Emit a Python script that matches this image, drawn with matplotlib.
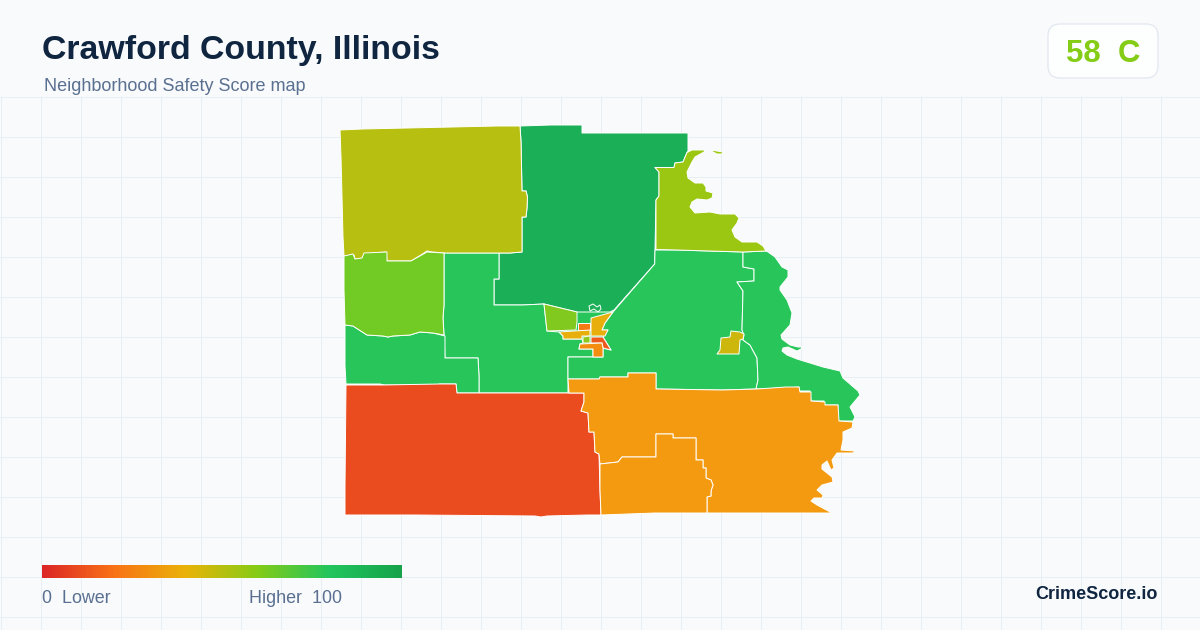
import numpy as np
import matplotlib
matplotlib.use("Agg")
import matplotlib.pyplot as plt
from matplotlib.colors import LinearSegmentedColormap
from matplotlib.patches import FancyBboxPatch, Polygon

TITLE = "Crawford County, Illinois"
SUBTITLE = "Neighborhood Safety Score map"
GRADE = "58  C"
BRAND = "CrimeScore.io"
LEGEND_LOW = "0  Lower"
LEGEND_HIGH = "Higher  100"

legend_stops = [0, 0.2, 0.4, 0.6, 0.8, 1]
legend_colors = ["#dc2626", "#f97316", "#eab308", "#84cc16", "#22c55e", "#16a34a"]

# Map outlines (map units)
northwest = [(340,130),(362,129),(407,128),(452,127),(497,126),(520,126),(521,142),(522,191),(526,191),(527.5,197),(527,208),(526,217),(522,217),(522,252),(510,253),(472,253),(445,253),(432,252),(427,251),(421,255),(411,261),(387,261),(386,252),(374,253),(365,254),(364,258),(357,259),(355,259),(354,255),(344,256),(343,237),(341,157)]
north = [(520,126),(551,125),(582,125),(582,133),(688,133),(688,151),(687,152.5),(683,162),(675,163),(674,167.5),(655,167.5),(659,172),(659,196),(656,200),(655,250),(654.7,264),(614,310),(610,312),(600,312),(590,312),(577,312),(544,304),(522,305),(494,305),(494,279),(499,279),(499,253),(510,253),(522,252),(522,217),(526,217),(527,208),(527.5,197),(526,191),(522,191),(521,142)]
northeast = [(655,167.5),(674,167.5),(675,163),(683,162),(687,152.5),(692,150),(705,150),(704,152),(695,157),(692,162),(687,172),(688,178),(695,183),(703,183),(706,187),(706,191),(713,193),(712,198),(707,200),(697,199),(692,202),(690,207),(695,213),(710,212),(720,214),(735,214),(739,218),(737,223),(732,230),(735,237),(742,242),(750,242),(757,242),(763,246),(766,251),(743,252),(709,251),(677,250),(656,249.5),(656,200),(659,196),(659,172)]
northeast_island = [(711,150),(717,151),(723,152),(722,154),(717,154),(713,152)]
west = [(344,256),(353,254),(355,259),(362,258),(364,253),(387,252),(387,261),(411,261),(427,252),(444,253),(444,305),(443,318),(444,335),(433,333),(420,332),(410,335),(393,336),(388,337),(383,336),(367,335),(353,326),(345,325),(344,290)]
west_middle = [(345,325),(353,326),(367,335),(383,336),(388,337),(393,336),(410,335),(420,332),(433,333),(445,336),(445,358),(478,358),(479,376),(479,393),(457,393),(456,384),(440,384),(435,385),(384,385),(380,384),(346,384),(345,366)]
central = [(444,253),(499,253),(499,279),(494,279),(494,305),(522,305),(544,304),(547,331),(559,332),(563,336),(563,339),(582,339),(583,343),(580,344),(579,349),(593,349),(593,357),(568,357),(568,393),(479,393),(479,376),(478,358),(445,358),(444,335),(443,318),(444,305)]
mid_east = [(655,250),(677,250),(709,251),(743,252),(743,267),(754,269),(754,281),(737,282),(743,291),(742,330),(744,335),(743,340),(750,345),(757,358),(758,380),(756,389),(722,390),(656,389),(656,373),(628,373),(628,377),(600,377),(599,379),(568,379),(568,357),(603,357),(603,348),(611,350),(603,337),(608,330),(602,330),(605,323),(613,312),(654.7,264)]
far_east = [(743,252),(766,251),(768,252),(775,257),(782,267),(788,270),(788,277),(780,287),(780,290),(787,300),(792,313),(790,325),(781,335),(782,339),(790,345),(798,347),(802,347),(801,349),(797,351),(788,347),(783,348),(782,351),(787,355),(797,359),(823,367),(840,371),(843,378),(858,391),(860,395),(850,407),(855,417),(853,421),(838,421),(838,405),(824,405),(824,401),(811,401),(810,391),(799,391),(799,387),(786,388),(756,389),(758,380),(757,358),(750,345),(743,340),(744,335),(742,330),(743,291),(737,282),(754,281),(754,269),(743,267)]
east_town = [(731,331),(740,332),(744,334),(743,339),(740,340),(739,354),(717,354),(720,350),(721,338),(730,337)]
southwest = [(346,385),(384,385),(439,384),(456,384),(457,393),(479,393),(568,393),(570,393),(584,393),(584,402),(581,411),(588,413),(589,432),(594,432),(595,452),(599,454),(600,490),(601,515),(587,515),(547,516),(541,517),(535,516),(415,515),(345,515),(345,487)]
southeast = [(568,379),(599,379),(600,377),(628,377),(628,373),(656,373),(656,389),(722,390),(757,389),(786,387),(799,387),(800,392),(811,392),(811,401),(825,402),(825,405),(838,405),(839,421),(853,422),(852,428),(843,432),(843,440),(841,450),(855,451),(853,453),(837,453),(832,460),(834,468),(831,470),(827,461),(822,465),(822,469),(832,477),(833,482),(822,485),(817,490),(823,495),(822,498),(814,498),(811,501),(817,505),(832,513),(800,513),(707,513),(707,497),(711,496),(711,491),(713,485),(711,480),(706,478),(706,468),(703,468),(703,460),(696,460),(696,438),(673,438),(673,434),(656,434),(656,457),(622,457),(618,462),(600,464),(599,454),(595,452),(594,432),(589,432),(588,413),(581,411),(584,402),(584,393),(569,393)]
south_middle = [(600,464),(618,462),(622,457),(656,457),(656,434),(673,434),(673,438),(696,438),(696,460),(703,460),(703,468),(706,468),(706,478),(711,480),(713,485),(711,491),(711,496),(707,497),(707,513),(655,513),(628,514),(601,515),(600,490)]
city_base = [(544,304),(577,312),(590,312),(610,312),(613,312),(611,350),(603,357),(568,357),(563,339),(547,331)]
city_west = [(544,304),(577,312),(577,322),(576,330),(547,331)]
city_core = [(578,323),(590,323),(590,330),(578,330)]
city_northeast = [(591,318),(613,312),(605,323),(602,330),(608,330),(605,336),(591,336)]
city_bar = [(559,332),(590,330),(590,336),(582,336),(582,339),(563,339),(563,336)]
city_middle = [(583,337),(590,336),(590,343),(583,343)]
city_southeast = [(591,337),(603,337),(611,350),(603,348),(602,343),(591,343)]
city_south = [(580,344),(602,343),(603,348),(603,357),(593,357),(593,349),(579,349)]
city_loop = [(590,311),(589,306),(593,304),(597,307),(600,305),(601,309),(598,312),(594,309)]

regions = [
    (city_base, "#28c65a"), (north, "#1bb058"), (central, "#28c65a"), (mid_east, "#28c65a"),
    (far_east, "#28c65a"), (west_middle, "#28c65a"), (northwest, "#b7c011"), (northeast, "#9bc712"),
    (northeast_island, "#9bc712"), (west, "#72cb24"), (east_town, "#cdb70d"),
    (southwest, "#ea4c1f"), (southeast, "#f39a10"), (south_middle, "#f39a10"),
    (city_west, "#82c91f"), (city_core, "#f47a12"), (city_northeast, "#e8ae0b"),
    (city_bar, "#e8ae0b"), (city_middle, "#8fc71a"), (city_southeast, "#ee5a1e"),
    (city_south, "#f28d10"),
]

BG = "#f8fafc"
fig = plt.figure(figsize=(12, 6.3), dpi=100, facecolor=BG)
ax = fig.add_axes([0, 0, 1, 1])
ax.set_xlim(0, 1200)
ax.set_ylim(630, 0)
ax.axis("off")

GRID = "#e8eff4"
ax.vlines(np.arange(0.5, 1200, 40), 96, 630, color=GRID, lw=0.72, zorder=1)
ax.hlines(np.arange(96.5, 630, 40), 0, 1200, color=GRID, lw=0.72, zorder=1)

for pts, col in regions:
    edge = col if pts is city_base else "white"
    ax.add_patch(Polygon(pts, closed=True, facecolor=col, edgecolor=edge, lw=0.7, zorder=2, joinstyle="round"))
ax.add_patch(Polygon(city_loop, closed=True, facecolor="none", edgecolor="white", lw=0.7, zorder=3))

sans = ["Liberation Sans", "DejaVu Sans"]
ax.text(42.5, 59.5, TITLE, family=sans, weight="bold", fontsize=24.4, color="#0f2540", va="baseline", ha="left", zorder=5)
ax.text(44, 91, SUBTITLE, family=sans, fontsize=12.95, color="#5a7090", va="baseline", ha="left", zorder=5)

ax.add_patch(FancyBboxPatch((1060, 36), 86, 30, boxstyle="round,pad=12,rounding_size=12",
                            facecolor="#fdfefe", edgecolor="#e2e8f0", lw=0.9, zorder=4))
ax.text(1103, 62, GRADE, family=sans, weight="bold", fontsize=22.4, color="#84cc16", va="baseline", ha="center", zorder=5)

cmap = LinearSegmentedColormap.from_list("score", list(zip(legend_stops, legend_colors)))
ax.imshow(np.linspace(0, 1, 360)[None, :], cmap=cmap, extent=(42, 402, 578, 565), aspect="auto", zorder=5)
ax.set_xlim(0, 1200)
ax.set_ylim(630, 0)

ax.text(42, 603, LEGEND_LOW, family=sans, fontsize=12.9, color="#5a7090", va="baseline", ha="left", zorder=5)
ax.text(249, 603, LEGEND_HIGH, family=sans, fontsize=12.9, color="#5a7090", va="baseline", ha="left", zorder=5)
ax.text(1158, 599, BRAND, family=sans, weight="bold", fontsize=13.0, color="#0f2540", va="baseline", ha="right", zorder=5)

fig.savefig("out.png", dpi=100, facecolor=BG)
